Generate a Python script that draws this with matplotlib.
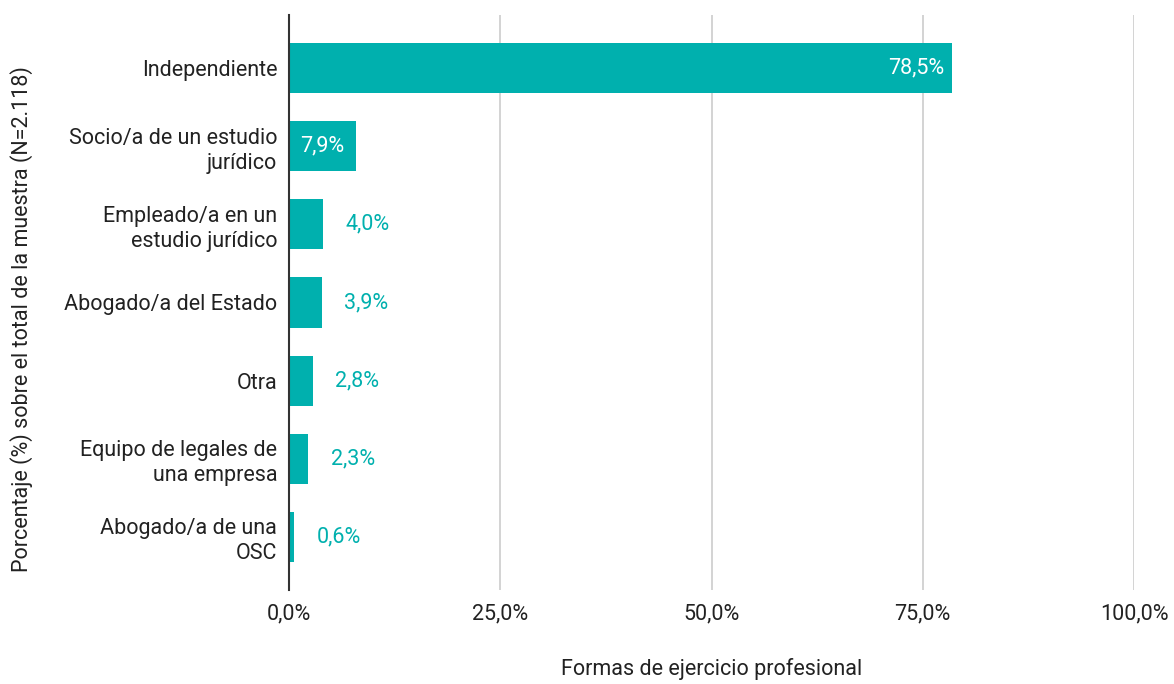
import matplotlib.pyplot as plt
from matplotlib.ticker import FuncFormatter

# Datos
categorias = ["Independiente", "Socio/a de un estudio\njurídico", "Empleado/a en un\nestudio jurídico",
              "Abogado/a del Estado", "Otra", "Equipo de legales de\nuna empresa", "Abogado/a de una\nOSC"]
porcentajes = [78.5, 7.9, 4.0, 3.9, 2.8, 2.3, 0.6]
ticks_x = [0, 25, 50, 75, 100]

color = "#00b0ae"
fs = 15.5
plt.rcParams['font.family'] = ['Roboto', 'DejaVu Sans']

fig = plt.figure(figsize=(11.74, 6.84), dpi=100)
ax = fig.add_axes([0.2462, 0.1374, 0.7197, 0.8407])

y = list(range(len(categorias)))
ax.barh(y, porcentajes, height=0.64, color=color, zorder=3)

# Etiquetas de valor
for yi, v in zip(y, porcentajes):
    txt = f"{v:.1f}%".replace(".", ",")
    if v > 50:
        ax.annotate(txt, (v, yi), xytext=(-6, 0), textcoords="offset points",
                    ha="right", va="center", color="white", fontsize=fs)
    elif v > 6:
        ax.text(v / 2, yi, txt, ha="center", va="center", color="white", fontsize=fs)
    else:
        ax.annotate(txt, (v, yi), xytext=(16, 0), textcoords="offset points",
                    ha="left", va="center", color=color, fontsize=fs)

ax.set_yticks(y)
ax.set_yticklabels(categorias, fontsize=fs, color="#222222", linespacing=1.25)
ax.set_ylim(6.68, -0.68)
ax.set_xlim(0, 100)
ax.set_xticks(ticks_x)
ax.xaxis.set_major_formatter(FuncFormatter(lambda v, p: f"{v:.1f}%".replace(".", ",")))
ax.tick_params(axis="x", labelsize=fs, colors="#222222", length=0, pad=10)
ax.tick_params(axis="y", length=0, pad=8.5)

ax.grid(axis="x", color="#cccccc", linewidth=1.2, zorder=0)
for s in ["top", "right", "bottom"]:
    ax.spines[s].set_visible(False)
ax.spines["left"].set_color("#333333")
ax.spines["left"].set_linewidth(1.5)
ax.spines["left"].set_zorder(4)

ax.set_xlabel("Formas de ejercicio profesional", fontsize=fs, color="#222222", labelpad=24)
fig.text(0.018, 0.534, "Porcentaje (%) sobre el total de la muestra (N=2.118)", rotation=90,
         ha="center", va="center", fontsize=fs, color="#222222")

fig.savefig("out.png", dpi=100)
